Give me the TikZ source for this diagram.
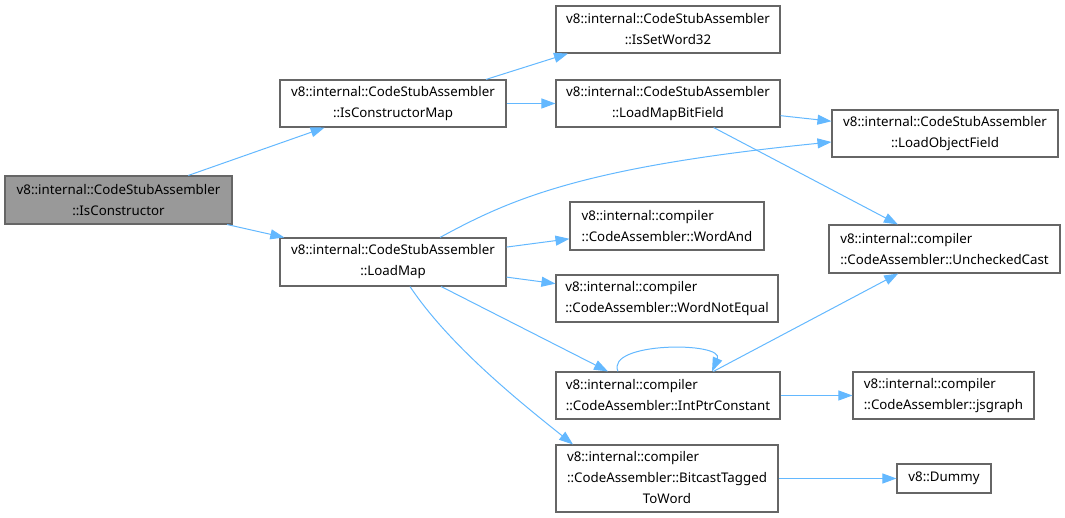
\documentclass[tikz,border=0pt]{standalone}
\usepackage{fontspec}
\setmainfont{Noto Sans}
\usetikzlibrary{arrows.meta}
\definecolor{edgeblue}{HTML}{63B8FF}
\definecolor{boxgray}{HTML}{666666}
\definecolor{rootgray}{HTML}{999999}

\begin{document}
\begin{tikzpicture}[x=1pt, y=1pt,
    fn/.style={draw=boxgray, line width=1.1pt, fill=white, inner sep=2pt,
      minimum height=47pt, font=\fontsize{13.3}{21}\selectfont},
    call/.style={draw=edgeblue, line width=1pt, -{Triangle[length=14pt, width=10pt]}}]
    \useasboundingbox (0,0) rectangle (1065,518);

    % Caller
    \node[fn, fill=rootgray, minimum width=227pt, minimum height=48pt, align=center] (isctor) at (118.5,318) {v8::internal::CodeStubAssembler\\::IsConstructor};

    % Second column
    \node[fn, minimum width=226pt, align=center] (isctormap) at (393,414.5) {v8::internal::CodeStubAssembler\\::IsConstructorMap};
    \node[fn, minimum width=226pt, minimum height=48pt, align=center] (loadmap) at (393,256) {v8::internal::CodeStubAssembler\\::LoadMap};

    % Third column
    \node[fn, minimum width=224pt, align=center] (issetword) at (668,488.5) {v8::internal::CodeStubAssembler\\::IsSetWord32};
    \node[fn, minimum width=224pt, align=center] (bitfield) at (668,414.5) {v8::internal::CodeStubAssembler\\::LoadMapBitField};
    \node[fn, minimum width=194pt, minimum height=48pt, align=left] (wordand) at (667,292) {v8::internal::compiler\\::CodeAssembler::WordAnd};
    \node[fn, minimum width=222pt, align=left] (wordne) at (667,219.5) {v8::internal::compiler\\::CodeAssembler::WordNotEqual};
    \node[fn, minimum width=224pt, align=left] (intptr) at (668,122.5) {v8::internal::compiler\\::CodeAssembler::IntPtrConstant};
    \node[fn, minimum width=222pt, minimum height=67pt] (bitcast) at (667,39.5) {\begin{tabular}{@{}l@{}}v8::internal::compiler\\::CodeAssembler::BitcastTagged\\\multicolumn{1}{@{}c@{}}{ToWord}\end{tabular}};

    % Fourth column
    \node[fn, minimum width=226pt, align=center] (objfield) at (945,384.5) {v8::internal::CodeStubAssembler\\::LoadObjectField};
    \node[fn, minimum width=231pt, minimum height=48pt, align=left] (unchecked) at (944.5,269) {v8::internal::compiler\\::CodeAssembler::UncheckedCast};
    \node[fn, minimum width=181pt, align=left] (jsgraph) at (943.5,122.5) {v8::internal::compiler\\::CodeAssembler::jsgraph};
    \node[fn, minimum width=94pt, minimum height=29pt] (dummy) at (944,39.5) {v8::Dummy};

    % Calls
    \draw[call] (isctor) -- (isctormap);
    \draw[call] (isctor) -- (loadmap);
    \draw[call] ([xshift=93pt]isctormap.north) -- ([xshift=-100pt]issetword.south);
    \draw[call] (isctormap) -- (bitfield);
    \draw[call] (bitfield) -- (objfield);
    \draw[call] (bitfield) -- (unchecked);
    \draw[call] ([xshift=47pt]loadmap.north) .. controls +(70,38) and +(-250,-25) .. ([yshift=-8.5pt]objfield.west);
    \draw[call] (loadmap) -- (wordand);
    \draw[call] (loadmap) -- (wordne);
    \draw[call] (loadmap) -- ([xshift=-60pt]intptr.north);
    \draw[call] ([xshift=17pt]loadmap.south) .. controls +(40,-60) and +(-50,40) .. ([xshift=-94pt]bitcast.north);
    \draw[call] ([xshift=-50pt]intptr.north) .. controls +(-13,30) and +(13,30) .. ([xshift=44pt]intptr.north);
    \draw[call] (intptr) -- (unchecked);
    \draw[call] (intptr) -- (jsgraph);
    \draw[call] (bitcast) -- (dummy);
\end{tikzpicture}
\end{document}
